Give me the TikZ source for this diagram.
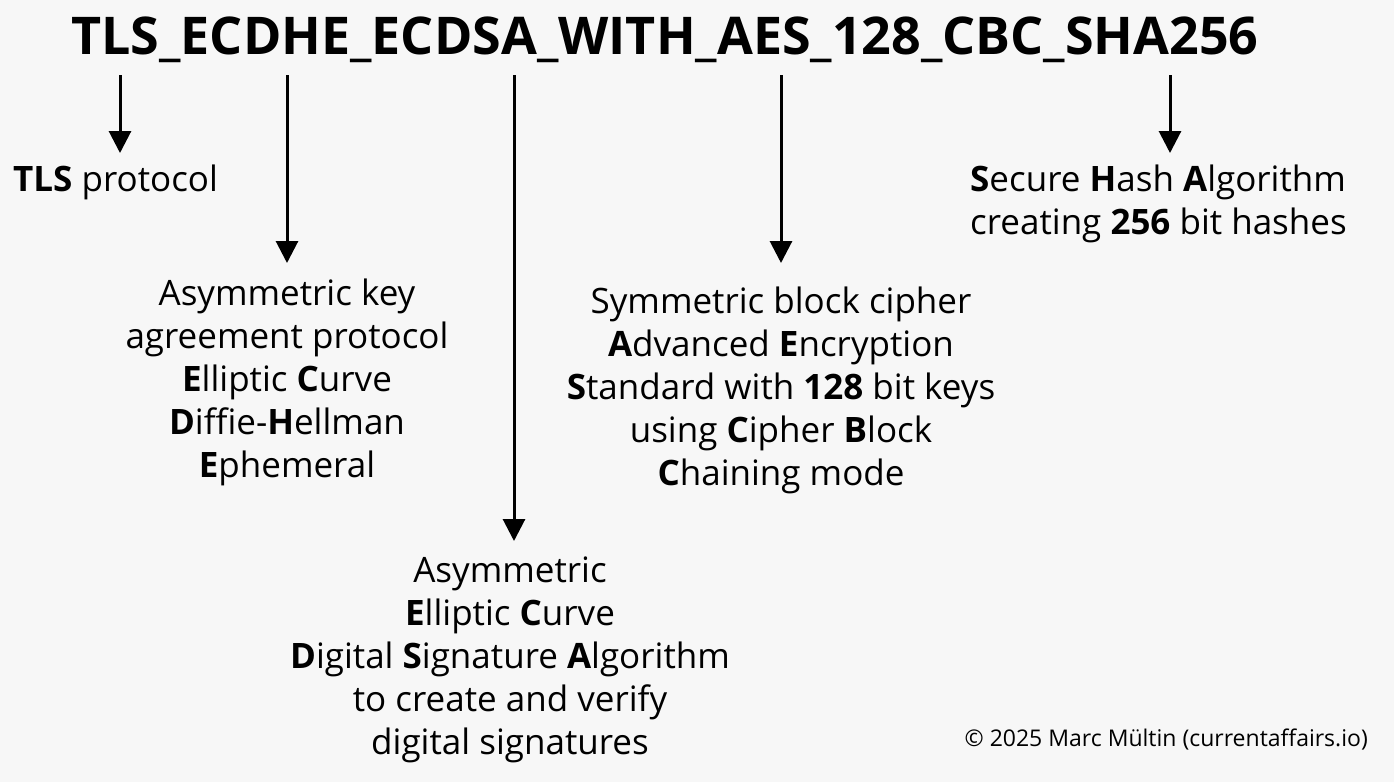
\documentclass[tikz,border=0pt]{standalone}
\usepackage{fontspec}
\setmainfont{Open Sans}
\usetikzlibrary{arrows.meta}
\begin{document}
\begin{tikzpicture}[x=1pt,y=-1pt,
  lbl/.style={inner sep=0pt,font=\fontsize{35}{43}\selectfont,align=center},
  arr/.style={line width=3pt,-{Triangle[length=22pt,width=22pt]}}]
\useasboundingbox[fill=white!97!black] (0,0) rectangle (1394,782);
\node[inner sep=0pt,font=\fontsize{52}{56}\bfseries] (title) at (665,40) {TLS\_ECDHE\_ECDSA\_WITH\_AES\_128\_CBC\_SHA256};
\coordinate (s1) at (120,75); \coordinate (e1) at (120,153);
\coordinate (s2) at (287,75); \coordinate (e2) at (287,263);
\coordinate (s3) at (514,75); \coordinate (e3) at (514,541);
\coordinate (s4) at (781,75); \coordinate (e4) at (781,263);
\coordinate (s5) at (1170,75); \coordinate (e5) at (1170,153);
\foreach \i in {1,...,5} \draw[arr] (s\i) -- (e\i);
\node[lbl,anchor=west] (t1) at (13,182) {\textbf{TLS} protocol};
\node[lbl,anchor=north] (t2) at (287,279) {Asymmetric key\\agreement protocol\\\textbf{E}lliptic \textbf{C}urve\\\textbf{D}iffie-\textbf{H}ellman\\\textbf{E}phemeral};
\node[lbl,anchor=north] (t3) at (510,557) {Asymmetric\\\textbf{E}lliptic \textbf{C}urve\\\textbf{D}igital \textbf{S}ignature \textbf{A}lgorithm\\to create and verify\\digital signatures};
\node[lbl,anchor=north] (t4) at (781,287) {Symmetric block cipher\\\textbf{A}dvanced \textbf{E}ncryption\\\textbf{S}tandard with \textbf{128} bit keys\\using \textbf{C}ipher \textbf{B}lock\\\textbf{C}haining mode};
\node[lbl,anchor=north west,align=left] (t5) at (970,165) {\textbf{S}ecure \textbf{H}ash \textbf{A}lgorithm\\creating \textbf{256} bit hashes};
\node[inner sep=0pt,anchor=east,font=\fontsize{23}{27}\selectfont] (c) at (1368,740) {© 2025 Marc Mültin (currentaffairs.io)};
\end{tikzpicture}
\end{document}
